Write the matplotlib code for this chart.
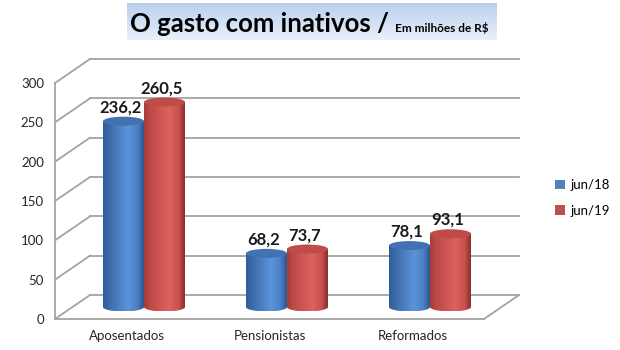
import numpy as np
import matplotlib
matplotlib.use("Agg")
import matplotlib.pyplot as plt
from matplotlib.path import Path
from matplotlib.patches import Ellipse, PathPatch, Patch
from matplotlib.lines import Line2D
from matplotlib.colors import LinearSegmentedColormap

# ---- data ----
categories = ["Aposentados", "Pensionistas", "Reformados"]
series_names = ["jun/18", "jun/19"]
values_jun18 = [236.2, 68.2, 78.1]
values_jun19 = [260.5, 73.7, 93.1]
y_ticks = [0, 50, 100, 150, 200, 250, 300]

plt.rcParams["font.family"] = ["Lato", "DejaVu Sans"]

W, H, DPI = 620, 350, 100
fig = plt.figure(figsize=(W / DPI, H / DPI), dpi=DPI)
fig.patch.set_facecolor("white")

# front plane of the 3-D box, in pixels
FX0, FX1, FY0, FY1 = 55, 484, 319, 83
ax = fig.add_axes([FX0 / W, (H - FY0) / H, (FX1 - FX0) / W, (FY0 - FY1) / H])
XMAX, YMAX = 3.0, 300.0
ax.set_xlim(0, XMAX)
ax.set_ylim(0, YMAX)
ax.patch.set_visible(False)
for s in ax.spines.values():
    s.set_visible(False)

px_per_x = (FX1 - FX0) / XMAX
px_per_y = (FY0 - FY1) / YMAX
# depth of the box (pixels) expressed in data units
DX = 35 / px_per_x
DY = 24 / px_per_y

grid_c = "#a3a3a3"
glw = 1.3

def seg(p, q):
    ax.add_line(Line2D([p[0], q[0]], [p[1], q[1]], color=grid_c, lw=glw,
                       clip_on=False, zorder=1))

# back wall gridlines and side wall diagonals
for v in y_ticks:
    seg((DX, v + DY), (XMAX + DX, v + DY))
    seg((0, v), (DX, v + DY))
# side wall front edge
seg((0, 0), (0, YMAX))
# floor
seg((0, 0), (XMAX, 0))
seg((XMAX, 0), (XMAX + DX, DY))

# ---- cylinders ----
blue_cmap = LinearSegmentedColormap.from_list(
    "b", [(0, "#2f5d97"), (0.15, "#3d6ba8"), (0.62, "#5c94da"), (0.85, "#4a7ec2"), (1, "#2b568e")])
red_cmap = LinearSegmentedColormap.from_list(
    "r", [(0, "#a53c39"), (0.15, "#bd4a47"), (0.62, "#dc625e"), (0.85, "#c6514e"), (1, "#8a2d2b")])
tops = ["#4272b1", "#bf4c49"]
cmaps = [blue_cmap, red_cmap]

BAR_W = 41 / px_per_x
ELL_H = 9 / px_per_y
grad = np.linspace(0, 1, 256).reshape(1, -1)

def cylinder(cx, value, cmap, top_color):
    x0, x1 = cx - BAR_W / 2, cx + BAR_W / 2
    yb = DY / 2
    yt = value + DY / 2
    t = np.linspace(np.pi, 2 * np.pi, 60)
    bx = cx + BAR_W / 2 * np.cos(t)
    by = yb + ELL_H / 2 * np.sin(t)
    verts = np.column_stack([np.r_[bx, x1, x0, x0], np.r_[by, yt, yt, by[0]]])
    codes = [Path.MOVETO] + [Path.LINETO] * (len(verts) - 2) + [Path.CLOSEPOLY]
    body = PathPatch(Path(verts, codes), facecolor="none", edgecolor="none",
                     transform=ax.transData, clip_on=False)
    ax.add_patch(body)
    im = ax.imshow(grad, cmap=cmap, extent=[x0, x1, yb - ELL_H / 2, yt],
                   aspect="auto", interpolation="bilinear", zorder=2)
    im.set_clip_path(body)
    ax.add_patch(Ellipse((cx, yt), BAR_W, ELL_H, facecolor=top_color,
                         edgecolor="none", zorder=3, clip_on=False))
    return yt + ELL_H / 2

for ci in range(len(categories)):
    vals = [values_jun18[ci], values_jun19[ci]]
    center = ci + 0.5 + DX / 2
    for si, v in enumerate(vals):
        cx = center + (si - 0.5) * BAR_W
        top = cylinder(cx, v, cmaps[si], tops[si])
        ax.annotate(f"{v:.1f}".replace(".", ","), (cx, top), xytext=(-2, 1),
                    textcoords="offset points", ha="center", va="bottom",
                    fontsize=12, fontweight="bold", color="#1a1a1a", zorder=5)

ax.set_xlim(0, XMAX)
ax.set_ylim(0, YMAX)

# ---- axes labels ----
ax.set_yticks(y_ticks)
ax.set_yticklabels([str(v) for v in y_ticks], fontsize=9.5, color="#262626")
ax.set_xticks([i + 0.5 for i in range(len(categories))])
ax.set_xticklabels(categories, fontsize=9.5, color="#262626")
ax.tick_params(axis="y", length=0, pad=8)
ax.tick_params(axis="x", length=0, pad=8)

# ---- legend ----
handles = [Patch(facecolor="#4F81BD"), Patch(facecolor="#C0504D")]
fig.legend(handles, series_names, loc="center left",
           bbox_to_anchor=(543 / W, 1 - 198 / H), frameon=False, fontsize=9.5,
           handlelength=0.75, handleheight=0.75, handletextpad=0.4,
           labelspacing=1.05)

# ---- title box ----
tax = fig.add_axes([127 / W, 1 - 40 / H, 370 / W, 37 / H])
tgrad = LinearSegmentedColormap.from_list("t", ["#bad0ee", "#e9f0fa"])
tax.imshow(np.linspace(0, 1, 64).reshape(-1, 1), cmap=tgrad, aspect="auto",
           extent=[0, 1, 0, 1])
tax.set_xlim(0, 1)
tax.set_ylim(0, 1)
tax.axis("off")
big = fig.text(130 / W, 1 - 32 / H, "O gasto com inativos /", fontsize=18.5,
               fontweight="bold", color="black", va="baseline", ha="left")
renderer = fig.canvas.get_renderer()
bb = big.get_window_extent(renderer)
fig.text((bb.x1 + 6) / W, 1 - 32 / H, "Em milhões de R$", fontsize=8.5,
         fontweight="bold", color="black", va="baseline", ha="left")

fig.savefig("out.png", dpi=DPI, facecolor="white")
